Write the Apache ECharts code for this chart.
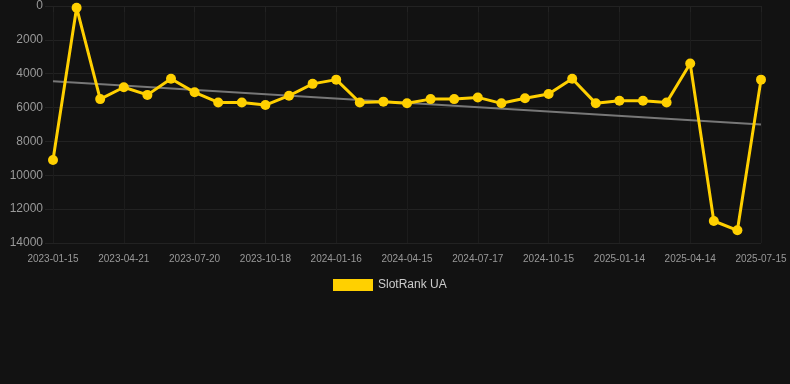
<!DOCTYPE html>
<html><head><meta charset="utf-8">
<script src="https://cdn.jsdelivr.net/npm/echarts@6/dist/echarts.min.js"></script>
<style>html,body{margin:0;padding:0;background:#121212;}#c{width:790px;height:384px;}</style>
</head><body><div id="c"></div>
<script>
const dates = ['2023-01-15','2023-02-16','2023-03-19','2023-04-21','2023-05-21','2023-06-20','2023-07-20','2023-08-19','2023-09-18','2023-10-18','2023-11-17','2023-12-17','2024-01-16','2024-02-15','2024-03-16','2024-04-15','2024-05-16','2024-06-16','2024-07-17','2024-08-16','2024-09-15','2024-10-15','2024-11-14','2024-12-15','2025-01-14','2025-02-13','2025-03-15','2025-04-14','2025-05-14','2025-06-14','2025-07-15'];
const rank = [9100,100,5500,4800,5250,4300,5100,5700,5700,5850,5300,4600,4350,5700,5650,5750,5500,5500,5400,5750,5450,5200,4300,5750,5600,5600,5700,3400,12700,13250,4350];
const trendStart = 4450, trendEnd = 7000;
const trend = dates.map((d,i)=> i===0 ? trendStart : (i===dates.length-1 ? trendEnd : null));
const yTicks = [0,2000,4000,6000,8000,10000,12000,14000];

const chart = echarts.init(document.getElementById('c'));
chart.setOption({
  backgroundColor:'#121212',
  animation:false,
  grid:{left:53,right:29,top:6,bottom:141},
  legend:{bottom:88,left:328,itemWidth:40,itemHeight:12,data:[{name:'SlotRank UA',icon:'rect'}],textStyle:{color:'#cccccc',fontSize:12,fontFamily:'Arial, Liberation Sans, sans-serif'}},
  xAxis:{type:'category',data:dates,boundaryGap:false,
    axisLine:{show:true,lineStyle:{color:'#222'}},
    axisTick:{show:true,interval:2,length:6,lineStyle:{color:'#222'}},
    axisLabel:{interval:2,color:'#999',fontSize:10,margin:11,fontFamily:'Arial, Liberation Sans, sans-serif'},
    splitLine:{show:true,interval:2,lineStyle:{color:'#1c1c1c'}}},
  yAxis:{type:'value',inverse:true,min:yTicks[0],max:yTicks[yTicks.length-1],interval:2000,
    axisLine:{show:false},axisTick:{show:true,length:8,lineStyle:{color:'#222'}},
    axisLabel:{color:'#999',fontSize:12,margin:10,formatter:v=>String(v),fontFamily:'Arial, Liberation Sans, sans-serif'},
    splitLine:{lineStyle:{color:'#222'}}},
  series:[
    {name:'trend',type:'line',data:trend,connectNulls:true,symbol:'none',lineStyle:{color:'#777',width:2},z:1,silent:true},
    {name:'SlotRank UA',type:'line',data:rank,symbol:'circle',symbolSize:10,itemStyle:{color:'#ffd000'},lineStyle:{color:'#ffd000',width:3},z:3}
  ]
});
</script></body></html>
